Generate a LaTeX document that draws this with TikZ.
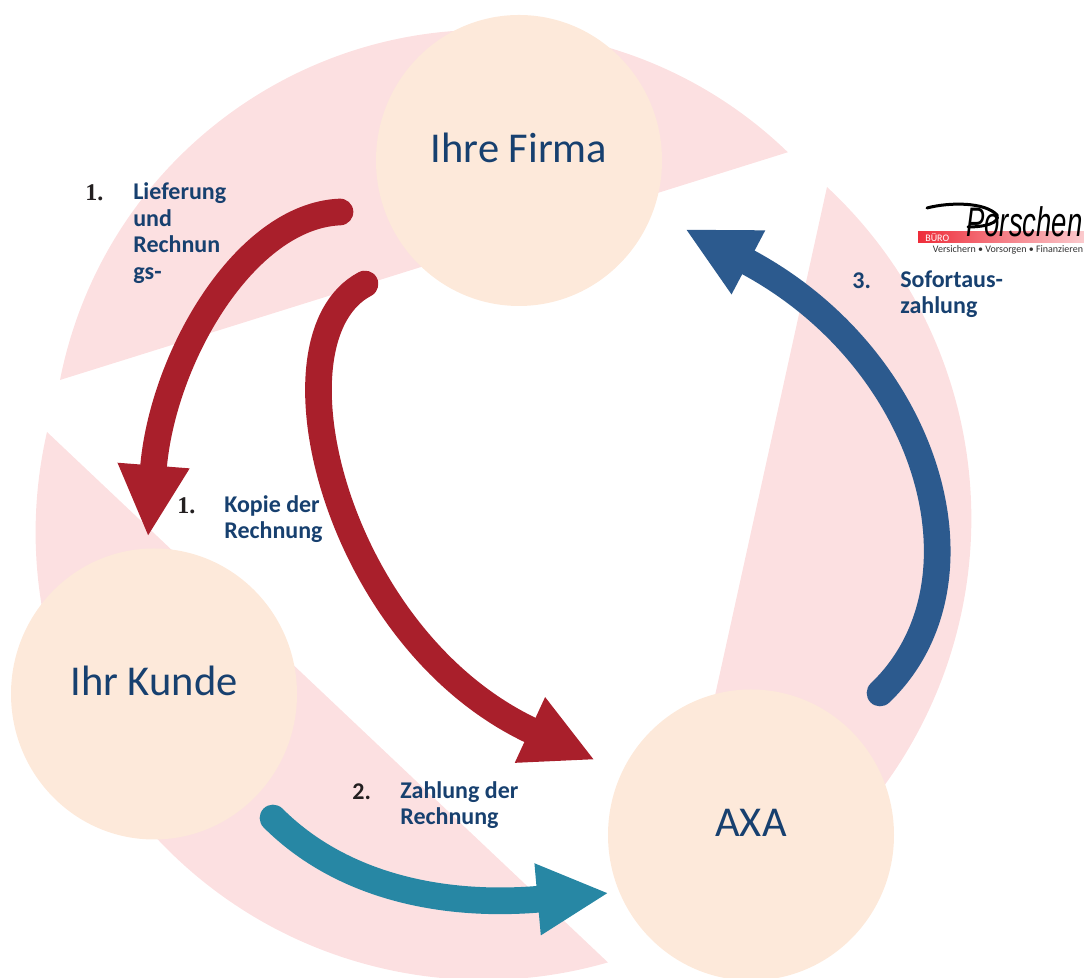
\documentclass[tikz,border=0pt]{standalone}
\usepackage{fontspec}
\setmainfont{Carlito}
\newfontfamily\numfont{Liberation Serif}
\newfontfamily\logofont{Liberation Sans}
\usetikzlibrary{arrows.meta,shapes.geometric}
\definecolor{wedgepink}{HTML}{FCE0E1}
\definecolor{discpeach}{HTML}{FDE9DA}
\definecolor{textblue}{HTML}{17406F}
\definecolor{flowred}{HTML}{A91F2B}
\definecolor{flowblue}{HTML}{2C5A8E}
\definecolor{flowteal}{HTML}{2787A4}
\definecolor{logored}{HTML}{EE2D3A}
\definecolor{numdark}{HTML}{231F20}
\tikzset{
  wedge/.style={fill=wedgepink},
  disc/.style={ellipse, fill=discpeach, minimum width=171.6pt, minimum height=174.6pt, inner sep=0pt,
    text=textblue, font=\fontsize{25.5}{28}\selectfont, text height=20pt, text depth=17.7pt},
  flow/.style={line width=16pt, line cap=round, -{Triangle[length=43pt,width=40pt]}},
  steplabel/.style={anchor=west, align=left, inner sep=0pt, text=textblue, font=\fontsize{14.4}{15.9}\selectfont\bfseries},
  stepnum/.style={anchor=west, inner sep=0pt, text=numdark, font=\fontsize{14.4}{15.9}\selectfont\bfseries},
  stepserif/.style={anchor=west, inner sep=0pt, text=numdark, font=\fontsize{14.4}{15.9}\selectfont\numfont\bfseries}
}
\begin{document}
\begin{tikzpicture}[x=0.6pt,y=0.6pt]
\useasboundingbox (0,0) rectangle (1084,978);

% background wedges
\fill[wedge] (60,598) arc[start angle=168.85, end angle=45.9, radius=434pt*0.6] -- cycle;
\fill[wedge] (827,791) arc[start angle=47.05, end angle=-51.6, radius=453pt*0.6] -- (692,178) -- cycle;
\fill[wedge] (47,546) arc[start angle=167.1, end angle=286.1, radius=448pt*0.6] -- cycle;

% discs
\node[disc] (firma) at (519,817.5) {Ihre Firma};
\node[disc] (kunde) at (154,284) {Ihr Kunde};
\node[disc] (axa) at (751,143) {AXA};

% flows
\coordinate (lieferStart) at (340,766);
\coordinate (lieferEnd) at (148,441);
\coordinate (kopieStart) at (365,694);
\coordinate (kopieEnd) at (595,218);
\coordinate (zahlStart) at (273,160);
\coordinate (zahlEnd) at (609,85);
\coordinate (sofortStart) at (880,285);
\coordinate (sofortEnd) at (685,749);

\draw[flow, flowred] (lieferStart) .. controls (245,762) and (162,620) .. (lieferEnd);
\draw[flow, flowred] (kopieStart) .. controls (262,640) and (335,338) .. (kopieEnd);
\draw[flow, flowteal] (zahlStart) .. controls (340,93) and (440,70) .. (zahlEnd);
\draw[flow, flowblue] (sofortStart) .. controls (995,395) and (930,620) .. (sofortEnd);

% labels
\node[stepserif] (numLiefer) at (85,785) {1.};
\node[steplabel] (lieferLabel) at (133,745) {Lieferung\\und\\Rechnun\\gs-};
\node[stepserif] (numKopie) at (177,472) {1.};
\node[steplabel] (kopieLabel) at (224,459) {Kopie der\\Rechnung};
\node[stepnum] (numZahl) at (352,186) {2.};
\node[steplabel] (zahlLabel) at (400,173) {Zahlung der\\Rechnung};
\node[stepnum, text=textblue] (numSofort) at (852,697) {3.};
\node[steplabel] (sofortLabel) at (900,684) {Sofortaus-\\zahlung};

% logo
\shade[left color=logored, right color=logored!25] (918,735) rectangle (1084,746);
\node[anchor=west, inner sep=0pt, text=white, font=\fontsize{6}{7}\selectfont] (logoBuero) at (925,740) {BÜRO};
\node[anchor=base west, inner sep=0pt, font=\fontsize{16.5}{22}\logofont\itshape] (logoName) at (966,741) {\scalebox{1}[1.5]{Porschen}};
\draw[line width=1.8pt, line cap=round] (927,770) .. controls (950,776) and (985,776) .. (997,763) .. controls (1000,755) and (985,751) .. (968,751);
\node[inner sep=0pt, text=black!80, font=\fontsize{6}{7}\selectfont] (logoLine) at (1008,728) {Versichern • Vorsorgen • Finanzieren};
\end{tikzpicture}
\end{document}
